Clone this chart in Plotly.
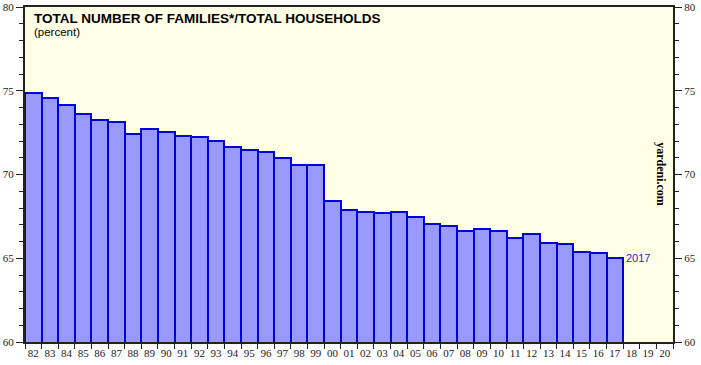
import plotly.graph_objects as go

categories = ["82","83","84","85","86","87","88","89","90","91","92","93","94","95","96","97","98","99",
              "00","01","02","03","04","05","06","07","08","09","10","11","12","13","14","15","16","17",
              "18","19","20"]
values = [74.88, 74.59, 74.17, 73.59, 73.25, 73.15, 72.44, 72.74, 72.52, 72.32, 72.25, 71.98,
          71.66, 71.44, 71.32, 70.96, 70.57, 70.57, 68.42, 67.88, 67.74, 67.70, 67.76, 67.48,
          67.06, 66.90, 66.63, 66.77, 66.63, 66.19, 66.45, 65.93, 65.83, 65.39, 65.31, 65.03]
bar_cats = categories[:len(values)]
y_ticks = [60, 65, 70, 75, 80]

fig = go.Figure()
fig.add_trace(go.Bar(x=bar_cats, y=values, base=0,
                     marker=dict(color="#9999FF", line=dict(color="#0000DD", width=2)),
                     showlegend=False, hoverinfo="skip"))
# invisible trace to drive the right axis
fig.add_trace(go.Scatter(x=[categories[0]], y=[60], yaxis="y2", mode="markers",
                         marker=dict(opacity=0), showlegend=False, hoverinfo="skip"))

tickfont = dict(family="Times New Roman, Liberation Serif, serif", size=11, color="#222")
fig.update_layout(
    width=701, height=365,
    margin=dict(l=25, r=28, t=7, b=23),
    paper_bgcolor="white", plot_bgcolor="#FFFFE6",
    bargap=0,
    xaxis=dict(type="category", categoryorder="array", categoryarray=categories,
               range=[-0.5, len(categories) - 0.5], tickson="boundaries",
               ticks="outside", ticklen=5, tickcolor="#222", tickwidth=1, tickangle=0,
               showline=True, linecolor="#222", linewidth=1.5, mirror=True, automargin=False,
               showgrid=False, tickfont=tickfont),
    yaxis=dict(range=[60, 80], tickvals=y_ticks, ticks="outside", ticklen=7, tickcolor="#222",
               tickwidth=1, showline=True, linecolor="#222", linewidth=2, showgrid=False,
               zeroline=False, tickfont=tickfont, automargin=False,
               minor=dict(dtick=1, ticks="outside", ticklen=4, tickcolor="#222", showgrid=False)),
    yaxis2=dict(range=[60, 80], tickvals=y_ticks, overlaying="y", side="right",
                ticks="outside", ticklen=7, tickcolor="#222", tickwidth=1, automargin=False,
                showline=True, linecolor="#222", linewidth=2, showgrid=False, zeroline=False,
                tickfont=tickfont,
                minor=dict(dtick=1, ticks="outside", ticklen=4, tickcolor="#222", showgrid=False)),
)

fig.add_annotation(xref="paper", yref="paper", x=0.011, y=1.0, yshift=-2, xanchor="left", yanchor="top",
                   text="<b>TOTAL NUMBER OF FAMILIES*/TOTAL HOUSEHOLDS</b>", showarrow=False,
                   font=dict(family="Arial, Liberation Sans, sans-serif", size=13.5, color="black"))
fig.add_annotation(xref="paper", yref="paper", x=0.011, y=1.0, yshift=-17, xanchor="left", yanchor="top",
                   text="(percent)", showarrow=False,
                   font=dict(family="Arial, Liberation Sans, sans-serif", size=11.5, color="black"))
fig.add_annotation(x=len(values) - 1, y=values[-1], xshift=9, xanchor="left", yanchor="middle",
                   text="2017", showarrow=False,
                   font=dict(family="Arial, Liberation Sans, sans-serif", size=11, color="#2828C8"))
fig.add_annotation(xref="paper", yref="paper", x=0.982, y=0.5, xanchor="center", yanchor="middle",
                   text="<b>yardeni.com</b>", textangle=90, showarrow=False,
                   font=dict(family="Times New Roman, Liberation Serif, serif", size=12, color="black"))

fig.write_html("out.html", config={"displayModeBar": False},
               post_script="document.body.style.margin='0';")
